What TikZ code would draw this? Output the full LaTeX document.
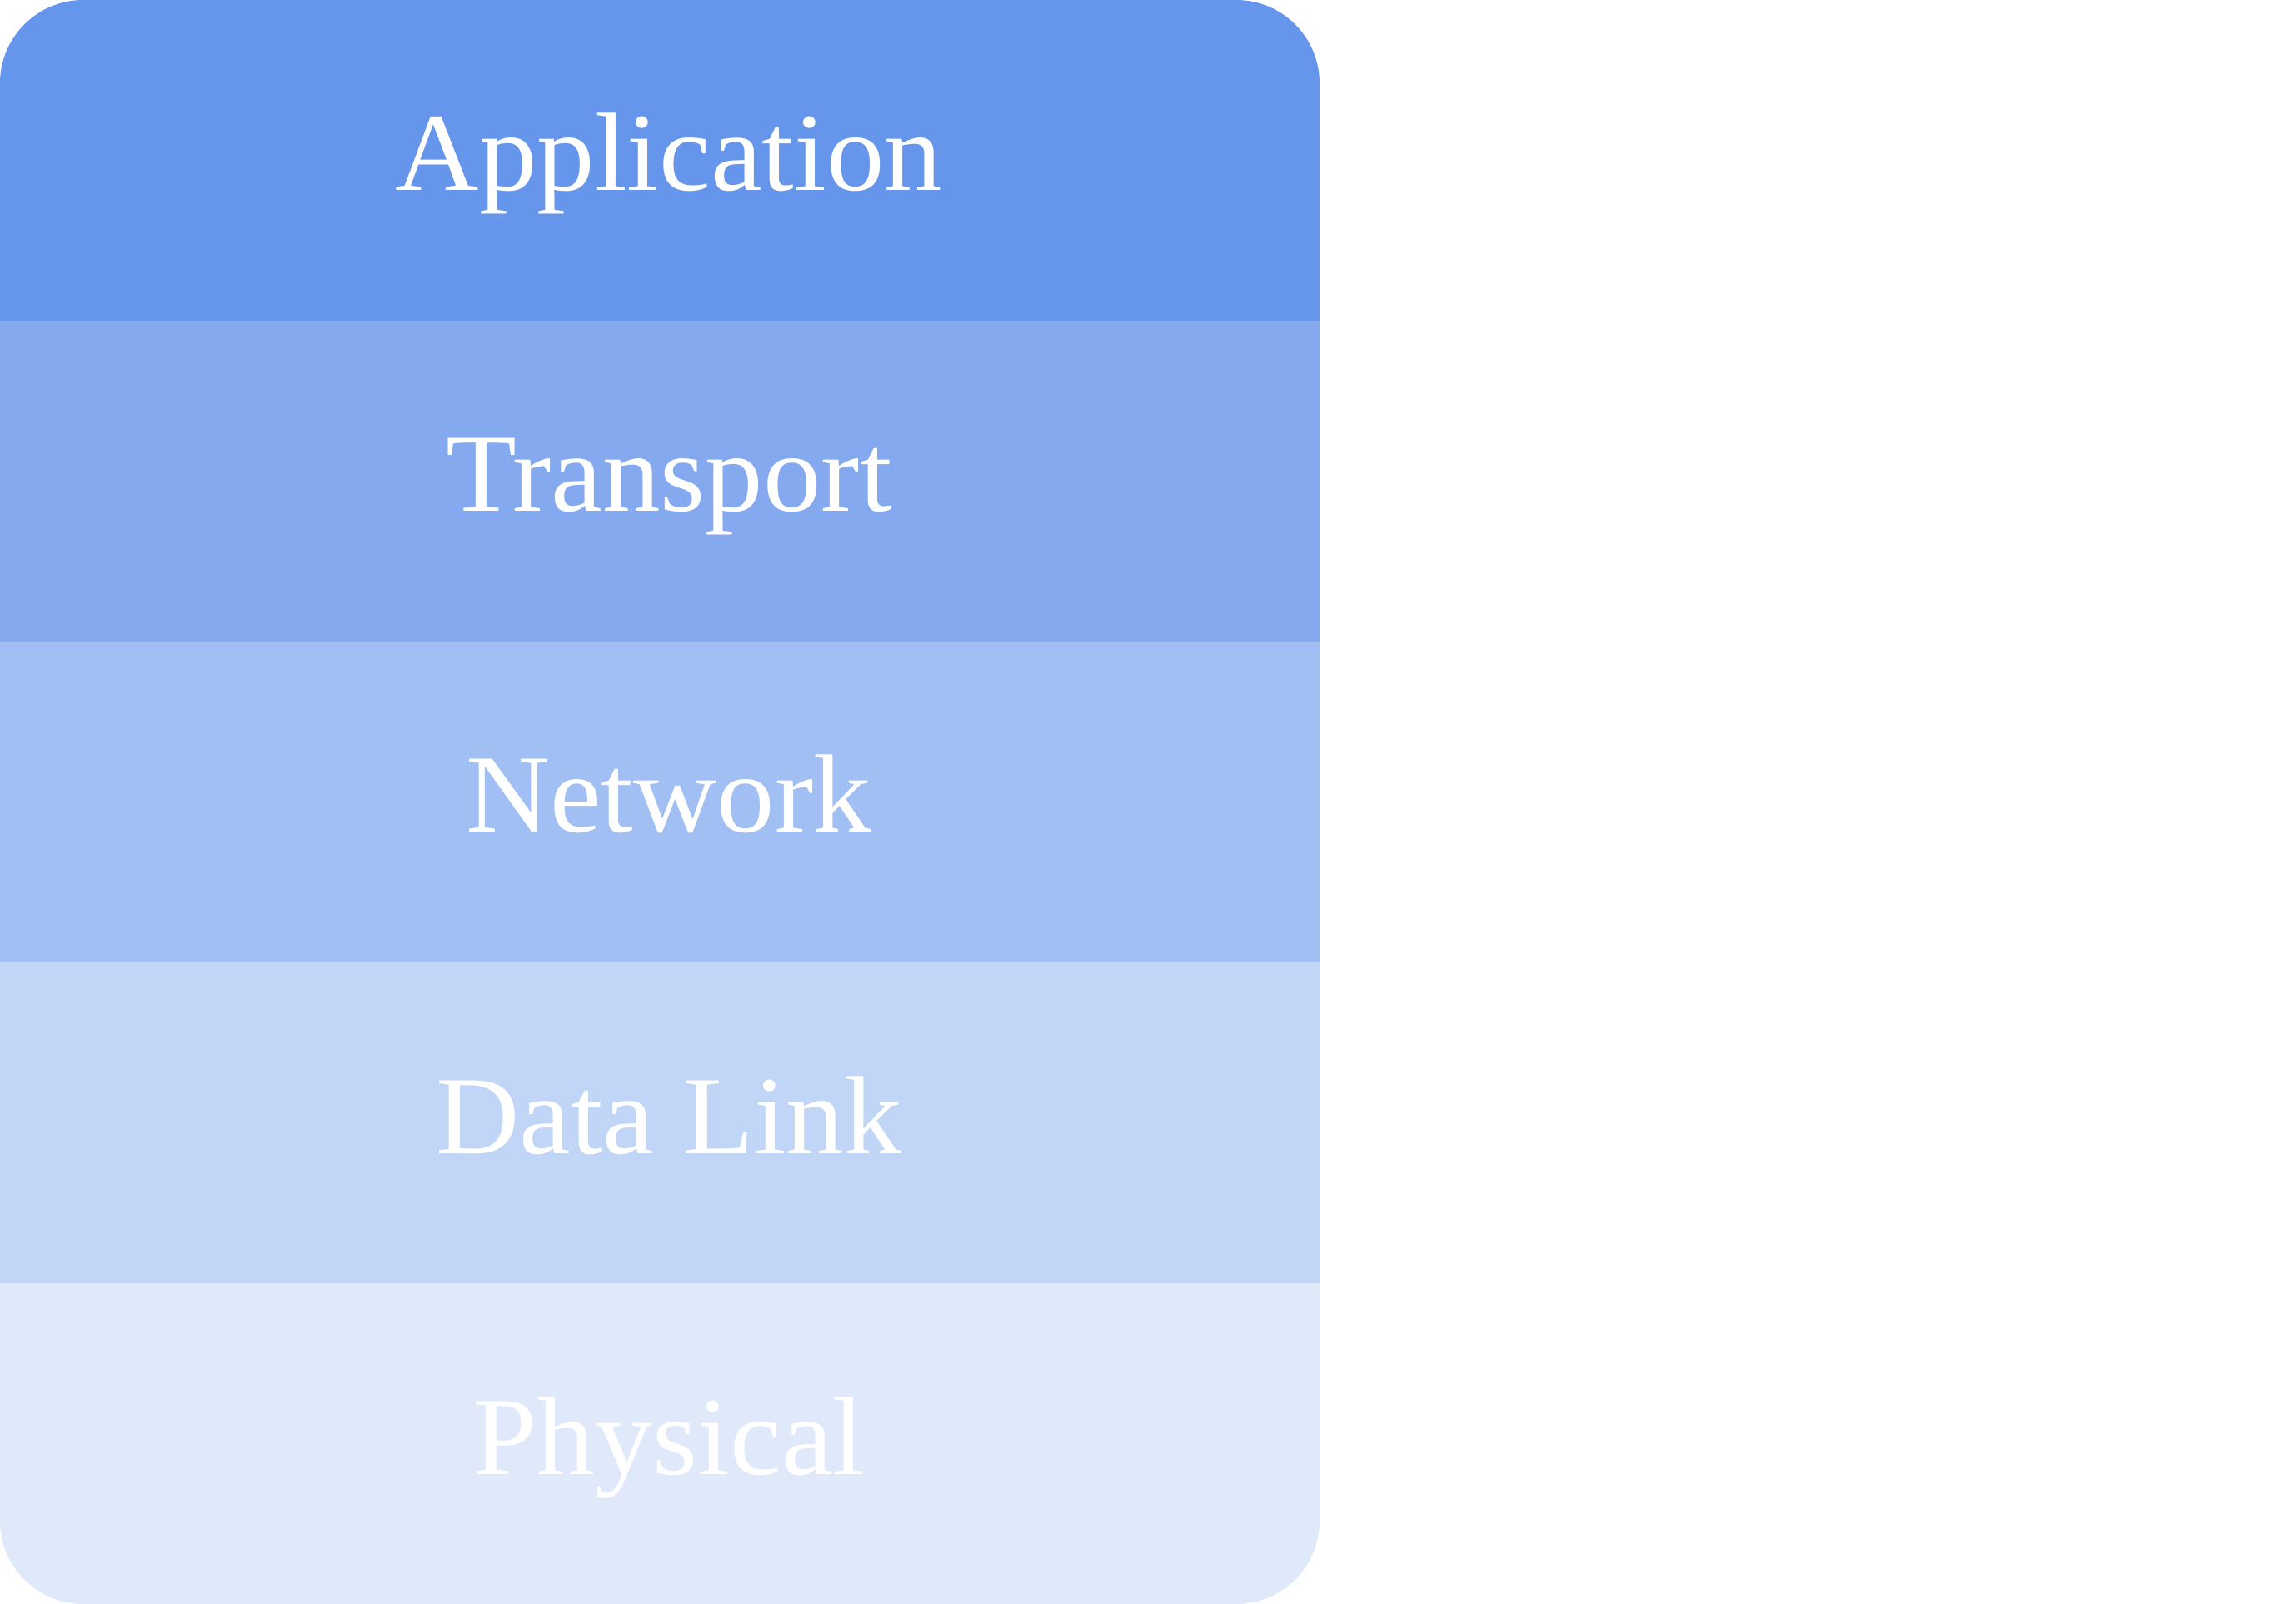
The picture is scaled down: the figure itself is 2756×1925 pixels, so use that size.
\documentclass[tikz,border=0pt]{standalone}
\usepackage{fontspec}
\setmainfont{Liberation Serif}
\definecolor{cA}{HTML}{6696EB}
\definecolor{cB}{HTML}{84A9EF}
\definecolor{cC}{HTML}{A2BFF4}
\definecolor{cD}{HTML}{C1D5F7}
\definecolor{cE}{HTML}{E0E9FA}
\tikzset{
  band/.style={draw=none, inner sep=0pt, outer sep=0pt, minimum width=15.84cm, minimum height=3.85cm, anchor=north west},
  lbl/.style={text=white, anchor=base, inner sep=0pt, xscale=1.04, font=\fontsize{38}{44}\selectfont}
}
\begin{document}
\begin{tikzpicture}[x=0.01cm,y=-0.01cm]
\useasboundingbox (0,0) rectangle (2756,1925);
\begin{scope}
\clip[rounded corners=1.0cm] (0,0) rectangle (1584,1925);
\node[band, fill=cA] (b1) at (0,0) {};
\node[band, fill=cB] (b2) at (0,385) {};
\node[band, fill=cC] (b3) at (0,770) {};
\node[band, fill=cD] (b4) at (0,1155) {};
\node[band, fill=cE] (b5) at (0,1540) {};
\end{scope}
\node[lbl] (t1) at (803,229) {Application};
\node[lbl] (t2) at (803,614) {Transport};
\node[lbl] (t3) at (803,999) {Network};
\node[lbl] (t4) at (803,1384) {Data Link};
\node[lbl] (t5) at (803,1769) {Physical};
\end{tikzpicture}
\end{document}
